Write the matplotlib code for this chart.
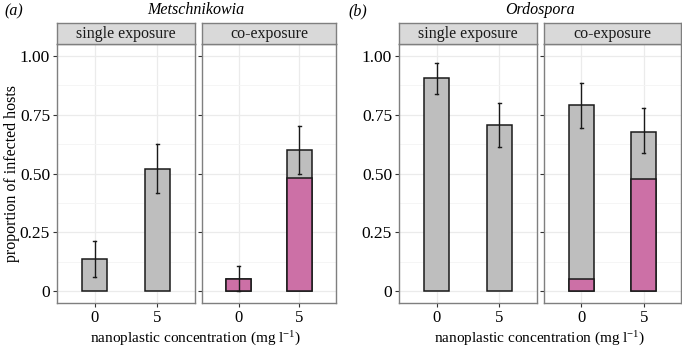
import matplotlib
matplotlib.use('Agg')
import matplotlib.pyplot as plt
from matplotlib.ticker import FixedLocator

plt.rcParams['font.family'] = ['Liberation Serif', 'DejaVu Serif']
plt.rcParams['mathtext.fontset'] = 'custom'
plt.rcParams['mathtext.rm'] = 'Liberation Serif'
plt.rcParams['mathtext.it'] = 'Liberation Serif:italic'

# Data
CONC = ['0', '5']
FACETS = ['single exposure', 'co-exposure']

# panel (a) Metschnikowia
met_total = {'single exposure': [0.137, 0.521], 'co-exposure': [0.052, 0.600]}
met_pink = {'single exposure': [0.0, 0.0], 'co-exposure': [0.052, 0.480]}
met_lo = {'single exposure': [0.062, 0.419], 'co-exposure': [0.0, 0.500]}
met_hi = {'single exposure': [0.212, 0.624], 'co-exposure': [0.107, 0.702]}

# panel (b) Ordospora
ord_total = {'single exposure': [0.904, 0.708], 'co-exposure': [0.789, 0.678]}
ord_pink = {'single exposure': [0.0, 0.0], 'co-exposure': [0.051, 0.477]}
ord_lo = {'single exposure': [0.837, 0.611], 'co-exposure': [0.695, 0.585]}
ord_hi = {'single exposure': [0.970, 0.800], 'co-exposure': [0.886, 0.777]}

Y_TICKS = [0, 0.25, 0.5, 0.75, 1.0]
Y_LABELS = ['0', '0.25', '0.50', '0.75', '1.00']

GREY = '#bebebe'
PINK = '#cc70a6'
EDGE = '#1a1a1a'
BORDER = '#7f7f7f'
GRID = '#ebebeb'

W, H = 682, 350
fig = plt.figure(figsize=(W / 100, H / 100), dpi=100)


def px_axes(x0, x1, y0, y1):
    # pixel box (y from top) -> figure axes
    return fig.add_axes([x0 / W, 1 - y1 / H, (x1 - x0) / W, (y1 - y0) / H])


def draw_panel(ax, total, pink, lo, hi, show_y):
    xs = range(len(CONC))
    ax.set_xlim(-0.6, 1.6)
    ax.set_ylim(-0.05, 1.05)
    ax.yaxis.set_minor_locator(FixedLocator([0.125, 0.375, 0.625, 0.875]))
    ax.grid(True, which='major', color=GRID, lw=0.9, zorder=0)
    ax.grid(True, which='minor', axis='y', color='#f4f4f4', lw=0.6, zorder=0)
    ax.set_axisbelow(True)
    ax.bar(xs, total, width=0.4, color=GREY, edgecolor=EDGE, lw=1.1, zorder=2)
    ax.bar([x for x, p in zip(xs, pink) if p > 0], [p for p in pink if p > 0],
           width=0.4, color=PINK, edgecolor=EDGE, lw=1.1, zorder=3)
    for x, l, h in zip(xs, lo, hi):
        ax.plot([x, x], [l, h], color=EDGE, lw=1.0, zorder=4)
        ax.plot([x - 0.02, x + 0.02], [l, l], color=EDGE, lw=1.0, zorder=4)
        ax.plot([x - 0.02, x + 0.02], [h, h], color=EDGE, lw=1.0, zorder=4)
    ax.set_xticks(list(xs))
    ax.set_xticklabels(CONC, fontsize=12)
    ax.set_yticks(Y_TICKS)
    if show_y:
        ax.set_yticklabels(Y_LABELS, fontsize=12.5)
    else:
        ax.set_yticklabels([])
        ax.tick_params(axis='y', length=0)
    ax.tick_params(axis='both', which='major', length=3, width=0.8,
                   color='#333333', pad=2)
    ax.tick_params(axis='y', which='minor', length=0)
    for s in ax.spines.values():
        s.set_color(BORDER)
        s.set_linewidth(1.0)


def draw_strip(x0, x1, text):
    sa = px_axes(x0, x1, 23, 44)
    sa.set_facecolor('#d9d9d9')
    sa.set_xticks([])
    sa.set_yticks([])
    for s in sa.spines.values():
        s.set_color(BORDER)
        s.set_linewidth(1.0)
    sa.text(0.5, 0.5, text, ha='center', va='center', fontsize=11.5,
            color='#1a1a1a', transform=sa.transAxes)


groups = [
    ((57, 195), (202, 336), met_total, met_pink, met_lo, met_hi),
    ((399, 537), (544, 681), ord_total, ord_pink, ord_lo, ord_hi),
]

for gi, (p1, p2, tot, pk, lo, hi) in enumerate(groups):
    for fi, (box, facet) in enumerate(zip([p1, p2], FACETS)):
        ax = px_axes(box[0], box[1], 44, 303)
        draw_panel(ax, tot[facet], pk[facet], lo[facet], hi[facet], fi == 0)
        draw_strip(box[0], box[1], facet)

# titles and labels
fig.text(4 / W, 1 - 11 / H, '(a)', style='italic', fontsize=11.5, va='center')
fig.text(348 / W, 1 - 11 / H, '(b)', style='italic', fontsize=11.5, va='center')
fig.text(196 / W, 1 - 10 / H, 'Metschnikowia', style='italic', fontsize=11.5,
         ha='center', va='center')
fig.text(540 / W, 1 - 10 / H, 'Ordospora', style='italic', fontsize=11.5,
         ha='center', va='center')
fig.text(12 / W, 1 - 174 / H, 'proportion of infected hosts', rotation=90,
         fontsize=11.5, ha='center', va='center')
fig.text(196 / W, 2 / H, 'nanoplastic concentration (mg l$^{-1}$)',
         fontsize=11, ha='center', va='bottom')
fig.text(540 / W, 2 / H, 'nanoplastic concentration (mg l$^{-1}$)',
         fontsize=11, ha='center', va='bottom')

fig.savefig('out.png', dpi=100)
